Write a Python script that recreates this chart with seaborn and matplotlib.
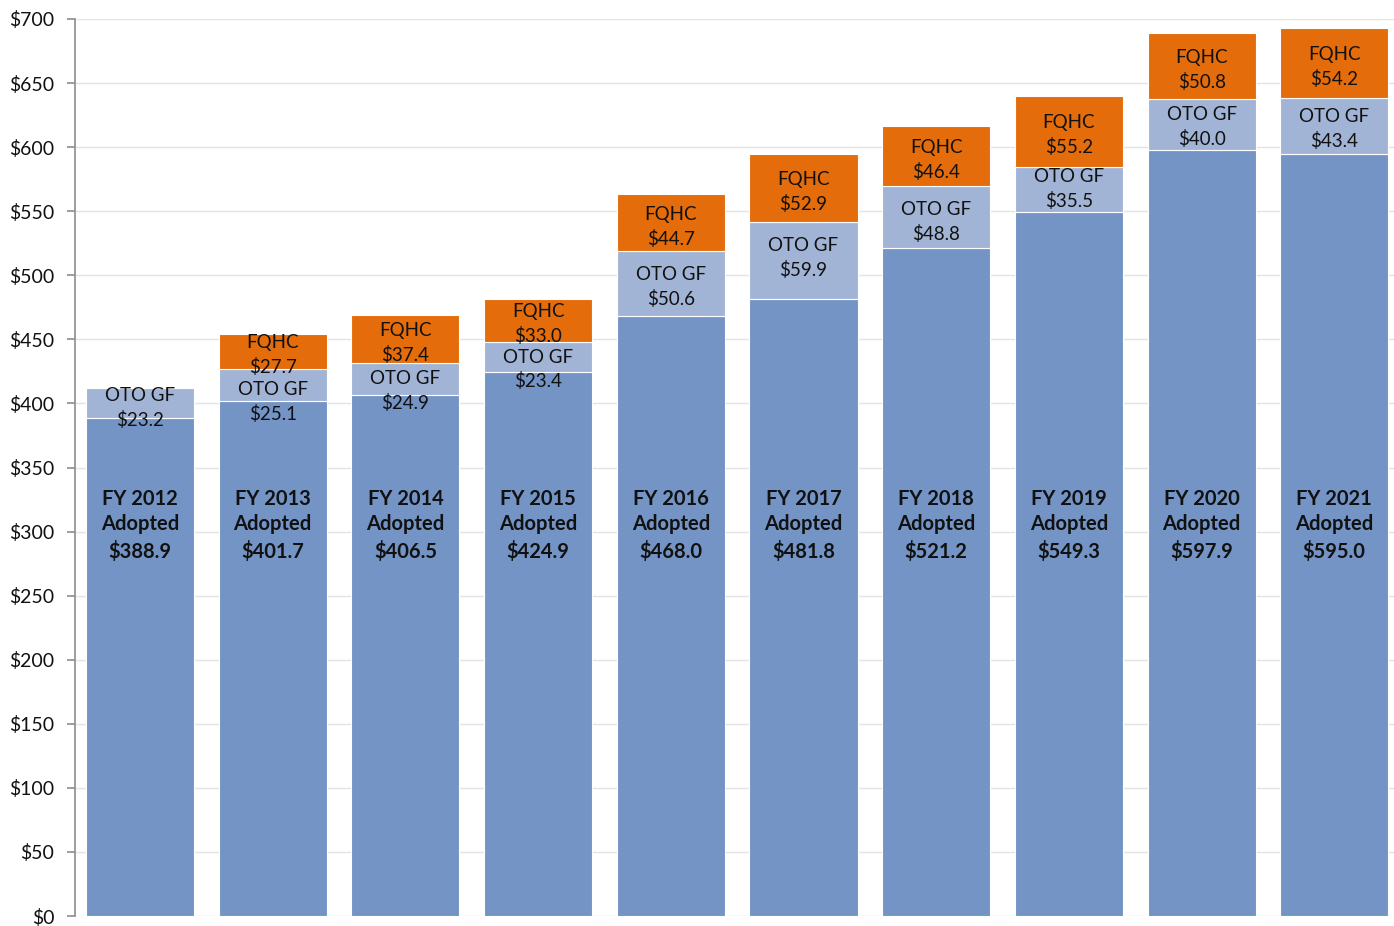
import matplotlib
matplotlib.use("Agg")
import matplotlib.pyplot as plt
import seaborn as sns
import pandas as pd
from matplotlib.ticker import FuncFormatter, MultipleLocator

years = ["FY 2012", "FY 2013", "FY 2014", "FY 2015", "FY 2016",
         "FY 2017", "FY 2018", "FY 2019", "FY 2020", "FY 2021"]
adopted = [388.9, 401.7, 406.5, 424.9, 468.0, 481.8, 521.2, 549.3, 597.9, 595.0]
oto_gf = [23.2, 25.1, 24.9, 23.4, 50.6, 59.9, 48.8, 35.5, 40.0, 43.4]
fqhc = [0.0, 27.7, 37.4, 33.0, 44.7, 52.9, 46.4, 55.2, 50.8, 54.2]

# vertical nudges (in $) for the OTO GF labels so they clear the FQHC labels
oto_label_nudge = [-4.3, -13.3, -9.0, -10.2, -2.3, 2.0, -3.9, 0.4, -2.0, -2.3]

df = pd.DataFrame({"year": years, "adopted": adopted, "oto_gf": oto_gf, "fqhc": fqhc})
df["oto_bottom"] = df["adopted"]
df["fqhc_bottom"] = df["adopted"] + df["oto_gf"]

sns.set_theme(style="white")
plt.rcParams["font.family"] = ["Lato", "DejaVu Sans"]

C_BASE = "#7394C5"
C_OTO = "#A2B4D6"
C_FQHC = "#E46C0A"

fig = plt.figure(figsize=(13.94, 9.26), dpi=100)
ax = fig.add_axes([75 / 1394, 10 / 926, 1319 / 1394, 897 / 926])

bar_w = 0.815
common = dict(x="year", ax=ax, width=bar_w, edgecolor="white", linewidth=0.8,
              saturation=1, order=years)
sns.barplot(data=df, y="adopted", color=C_BASE, **common)
sns.barplot(data=df, y="oto_gf", bottom=df["oto_bottom"], color=C_OTO, **common)
sns.barplot(data=df, y="fqhc", bottom=df["fqhc_bottom"], color=C_FQHC, **common)

ax.set_xlim(-0.49, 9.45)
ax.set_ylim(0, 700)
ax.yaxis.set_major_locator(MultipleLocator(50))
ax.yaxis.set_major_formatter(FuncFormatter(lambda v, _: f"${v:.0f}"))
ax.grid(axis="y", color="#E3E3E3", linewidth=1.0)
ax.set_axisbelow(True)
ax.set_xlabel("")
ax.set_ylabel("")
ax.set_xticks([])
for side in ["top", "right", "bottom"]:
    ax.spines[side].set_visible(False)
ax.spines["left"].set_color("#8C8C8C")
ax.spines["left"].set_linewidth(1.2)
ax.tick_params(axis="y", which="major", left=True, length=6, width=1.2,
               color="#8C8C8C", labelsize=14, labelcolor="#111111", pad=9)

for i, row in df.iterrows():
    # bold label for the adopted base
    ax.text(i, 305, f"{row['year']}\nAdopted\n${row['adopted']:.1f}",
            ha="center", va="center", fontsize=14.5, fontweight="bold",
            color="#111111", linespacing=1.37)
    # OTO GF segment label
    ax.text(i, row["adopted"] + row["oto_gf"] / 2 + oto_label_nudge[i],
            f"OTO GF\n${row['oto_gf']:.1f}", ha="center", va="center",
            fontsize=13.5, color="#111111", linespacing=1.45)
    if row["fqhc"] > 0:
        ax.text(i, row["fqhc_bottom"] + row["fqhc"] / 2 - 3,
                f"FQHC\n${row['fqhc']:.1f}", ha="center", va="center",
                fontsize=13.5, color="#111111", linespacing=1.45)

fig.savefig("out.png", dpi=100)
